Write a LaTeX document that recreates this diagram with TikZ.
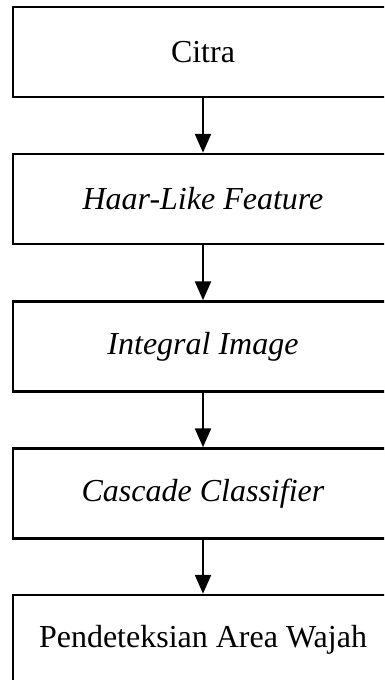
\documentclass[tikz,border=0pt]{standalone}
\usepackage{fontspec}
\setmainfont{Liberation Serif}
\usetikzlibrary{arrows.meta}
\begin{document}
\begin{tikzpicture}[x=1pt,y=-1pt,
  stepbox/.style={draw=black, line width=2.5pt, minimum width=380pt, minimum height=90pt, inner sep=0pt,
    font=\fontsize{32}{38}\selectfont},
  flow/.style={line width=2.5pt, -{Triangle[width=16pt,length=19pt]}}]
\path[use as bounding box] (0,0) rectangle (384,680);
\clip (0,0) rectangle (384,680);
\node[stepbox] (a) at (203,52) {Citra};
\node[stepbox] (b) at (203,199) {\textit{Haar-Like Feature}};
\node[stepbox] (c) at (203,346.5) {\textit{Integral Image}};
\node[stepbox] (d) at (203,493.5) {\textit{Cascade Classifier}};
\node[stepbox] (e) at (203,640) {Pendeteksian Area Wajah};
\draw[flow] (a) -- (b);
\draw[flow] (b) -- (c);
\draw[flow] (c) -- (d);
\draw[flow] (d) -- (e);
\end{tikzpicture}
\end{document}
